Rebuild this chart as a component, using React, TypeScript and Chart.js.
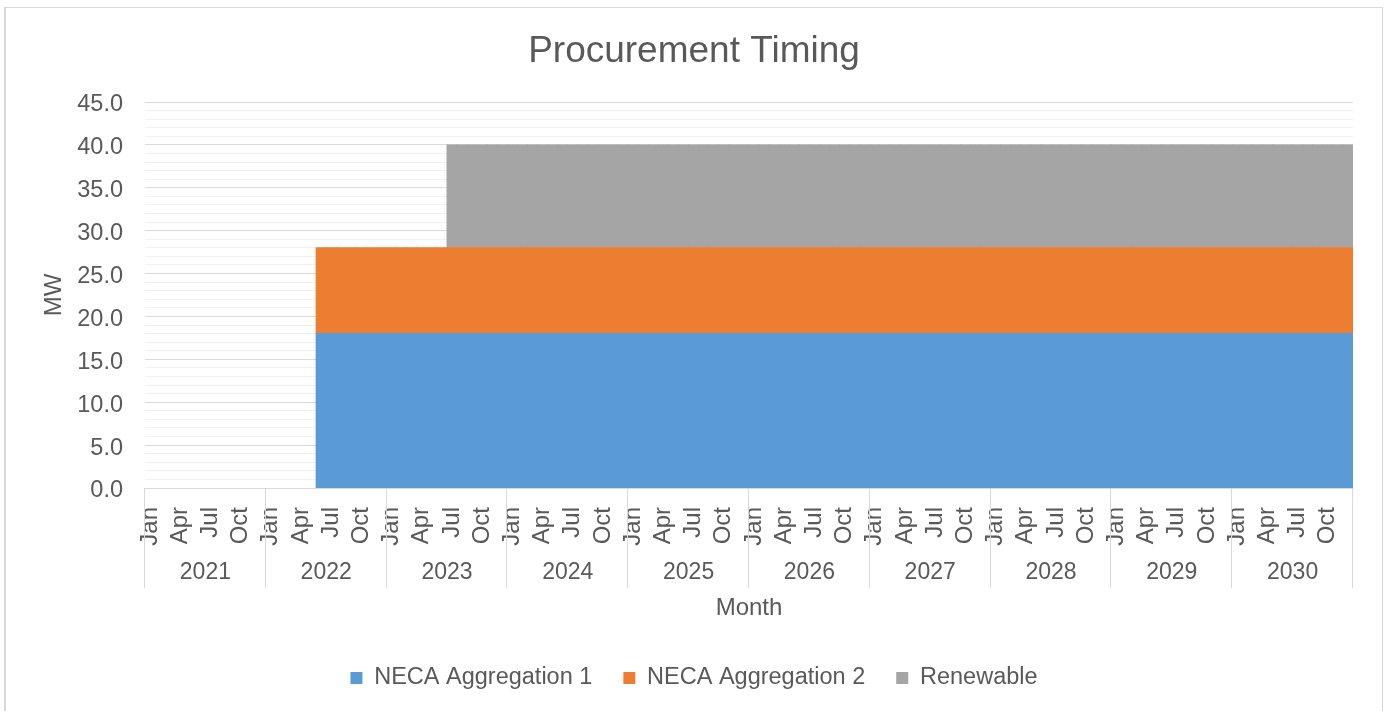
import React, { useEffect, useRef } from "react";
import { Chart, registerables } from "chart.js";

Chart.register(...registerables);

const monthNames = ["Jan", "Feb", "Mar", "Apr", "May", "Jun", "Jul", "Aug", "Sep", "Oct", "Nov", "Dec"];
const years = ["2021", "2022", "2023", "2024", "2025", "2026", "2027", "2028", "2029", "2030"];
const shownMonths = ["Jan", "Apr", "Jul", "Oct"];
const yTicks = [0, 5, 10, 15, 20, 25, 30, 35, 40, 45];

// one value per month, Jan 2021 .. Dec 2030 (one row per year)
const necaAggregation1 = [
  null, null, null, null, null, null, null, null, null, null, null, null,
  null, null, null, null, null, 18, 18, 18, 18, 18, 18, 18,
  18, 18, 18, 18, 18, 18, 18, 18, 18, 18, 18, 18,
  18, 18, 18, 18, 18, 18, 18, 18, 18, 18, 18, 18,
  18, 18, 18, 18, 18, 18, 18, 18, 18, 18, 18, 18,
  18, 18, 18, 18, 18, 18, 18, 18, 18, 18, 18, 18,
  18, 18, 18, 18, 18, 18, 18, 18, 18, 18, 18, 18,
  18, 18, 18, 18, 18, 18, 18, 18, 18, 18, 18, 18,
  18, 18, 18, 18, 18, 18, 18, 18, 18, 18, 18, 18,
  18, 18, 18, 18, 18, 18, 18, 18, 18, 18, 18, 18,
];
const necaAggregation2 = [
  null, null, null, null, null, null, null, null, null, null, null, null,
  null, null, null, null, null, 10, 10, 10, 10, 10, 10, 10,
  10, 10, 10, 10, 10, 10, 10, 10, 10, 10, 10, 10,
  10, 10, 10, 10, 10, 10, 10, 10, 10, 10, 10, 10,
  10, 10, 10, 10, 10, 10, 10, 10, 10, 10, 10, 10,
  10, 10, 10, 10, 10, 10, 10, 10, 10, 10, 10, 10,
  10, 10, 10, 10, 10, 10, 10, 10, 10, 10, 10, 10,
  10, 10, 10, 10, 10, 10, 10, 10, 10, 10, 10, 10,
  10, 10, 10, 10, 10, 10, 10, 10, 10, 10, 10, 10,
  10, 10, 10, 10, 10, 10, 10, 10, 10, 10, 10, 10,
];
const renewable = [
  null, null, null, null, null, null, null, null, null, null, null, null,
  null, null, null, null, null, null, null, null, null, null, null, null,
  null, null, null, null, null, null, 12, 12, 12, 12, 12, 12,
  12, 12, 12, 12, 12, 12, 12, 12, 12, 12, 12, 12,
  12, 12, 12, 12, 12, 12, 12, 12, 12, 12, 12, 12,
  12, 12, 12, 12, 12, 12, 12, 12, 12, 12, 12, 12,
  12, 12, 12, 12, 12, 12, 12, 12, 12, 12, 12, 12,
  12, 12, 12, 12, 12, 12, 12, 12, 12, 12, 12, 12,
  12, 12, 12, 12, 12, 12, 12, 12, 12, 12, 12, 12,
  12, 12, 12, 12, 12, 12, 12, 12, 12, 12, 12, 12,
];

const categories: string[] = [];
years.forEach((y) => monthNames.forEach((m) => categories.push(m + " " + y)));

const FONT = "'Liberation Sans', Arial, sans-serif";
const TEXT = "#595959";

const yearRowPlugin = {
  id: "yearRow",
  afterDraw(chart: any) {
    const xs = chart.scales.x;
    const area = chart.chartArea;
    const ctx = chart.ctx;
    const half = (xs.getPixelForValue(1) - xs.getPixelForValue(0)) / 2;
    ctx.save();
    ctx.strokeStyle = "#d9d9d9";
    ctx.lineWidth = 1;
    for (let k = 0; k <= years.length; k++) {
      const x =
        k < years.length
          ? xs.getPixelForValue(k * 12) - half
          : xs.getPixelForValue(k * 12 - 1) + half;
      const px = Math.round(x) - 0.5;
      ctx.beginPath();
      ctx.moveTo(px, area.bottom);
      ctx.lineTo(px, area.bottom + 100);
      ctx.stroke();
    }
    ctx.fillStyle = TEXT;
    ctx.font = "23px " + FONT;
    ctx.textAlign = "center";
    ctx.textBaseline = "middle";
    years.forEach((y, k) => {
      const x0 = xs.getPixelForValue(k * 12) - half;
      const x1 = xs.getPixelForValue(k * 12 + 11) + half;
      ctx.fillText(y, (x0 + x1) / 2, area.bottom + 85);
    });
    ctx.restore();
  },
};

export default function App() {
  const ref = useRef<HTMLCanvasElement>(null);
  useEffect(() => {
    const chart = new Chart(ref.current as HTMLCanvasElement, {
      type: "bar",
      data: {
        labels: categories,
        datasets: [
          { label: "NECA Aggregation 1", data: necaAggregation1 as any, backgroundColor: "#5b9bd5", borderWidth: 0, inflateAmount: 0.5 },
          { label: "NECA Aggregation 2", data: necaAggregation2 as any, backgroundColor: "#ed7d31", borderWidth: 0, inflateAmount: 0.5 },
          { label: "Renewable", data: renewable as any, backgroundColor: "#a5a5a5", borderWidth: 0, inflateAmount: 0.5 },
        ],
      },
      options: {
        responsive: false,
        animation: false,
        barPercentage: 1,
        categoryPercentage: 1,
        layout: { padding: { left: 0, right: 0, top: 0, bottom: 11.25 } },
        plugins: {
          tooltip: { enabled: false },
          title: {
            display: true,
            text: "Procurement Timing",
            color: TEXT,
            font: { family: FONT, size: 37, weight: "normal" },
            padding: { top: 22, bottom: 27.6 },
          },
          legend: {
            position: "bottom",
            labels: {
              color: TEXT,
              font: { family: FONT, size: 23.5 },
              boxWidth: 12,
              boxHeight: 12,
              padding: 31,
            },
          },
        },
        scales: {
          x: {
            stacked: true,
            grid: { display: false },
            border: { display: true, color: "#d9d9d9" },
            ticks: {
              autoSkip: false,
              minRotation: 90,
              maxRotation: 90,
              padding: 11,
              color: TEXT,
              font: { family: FONT, size: 24 },
              callback: (_v: any, i: number) => {
                const m = monthNames[i % 12];
                return shownMonths.includes(m) ? m : "";
              },
            },
            title: {
              display: true,
              text: "Month",
              color: TEXT,
              font: { family: FONT, size: 24 },
              padding: { top: 0, bottom: 12.85 },
            },
            afterFit: (s: any) => {
              s.height = 147.25;
              s.paddingLeft = 0;
              s.paddingRight = 29;
            },
          },
          y: {
            stacked: true,
            min: 0,
            max: 45,
            border: { display: false },
            grid: {
              drawTicks: false,
              color: (c: any) => (yTicks.includes(c.tick.value) ? "#d9d9d9" : "#f0f0f0"),
            },
            ticks: {
              stepSize: 1,
              autoSkip: false,
              maxTicksLimit: 100,
              padding: 22,
              labelOffset: 3,
              color: TEXT,
              font: { family: FONT, size: 23.5 },
              callback: (v: any) => (yTicks.includes(v) ? Number(v).toFixed(1) : ""),
            },
            title: {
              display: true,
              text: "MW",
              color: TEXT,
              font: { family: FONT, size: 24 },
              padding: { top: 34, bottom: 0 },
            },
            afterFit: (s: any) => {
              s.width = 139;
            },
          },
        },
      },
      plugins: [yearRowPlugin],
    });
    return () => chart.destroy();
  }, []);

  return (
    <div
      style={{
        position: "absolute",
        left: 4,
        top: 7,
        width: 1379,
        height: 704,
        boxSizing: "border-box",
        borderTop: "1px solid #d9d9d9",
        borderLeft: "2px solid #d9d9d9",
        borderRight: "1px solid #d9d9d9",
        background: "#fff",
        overflow: "hidden",
      }}
    >
      <canvas ref={ref} width={1376} height={703} style={{ display: "block" }} />
    </div>
  );
}
